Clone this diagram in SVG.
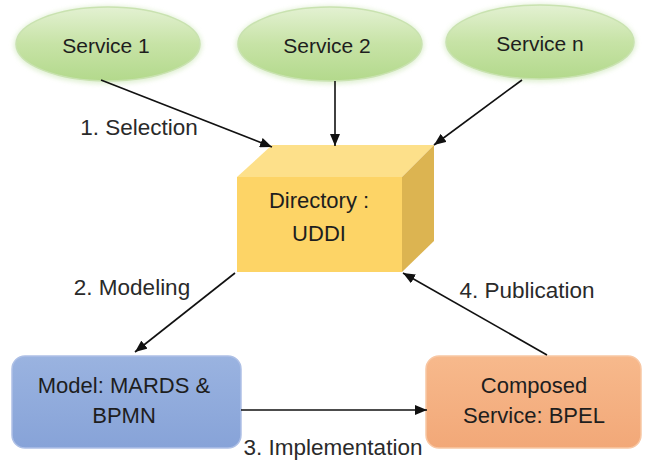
<svg xmlns="http://www.w3.org/2000/svg" width="650" height="461" viewBox="0 0 650 461">
  <defs>
    <linearGradient id="gGreen" x1="0" y1="0" x2="0" y2="1">
      <stop offset="0" stop-color="#e3f1d2"/>
      <stop offset="0.5" stop-color="#c7e3a6"/>
      <stop offset="1" stop-color="#b3d98c"/>
    </linearGradient>
    <linearGradient id="gBlue" x1="0" y1="0" x2="0" y2="1">
      <stop offset="0" stop-color="#9ab3e0"/>
      <stop offset="1" stop-color="#87a3d8"/>
    </linearGradient>
    <linearGradient id="gOrange" x1="0" y1="0" x2="0" y2="1">
      <stop offset="0" stop-color="#f7b98c"/>
      <stop offset="1" stop-color="#f2a878"/>
    </linearGradient>
    <filter id="glow" x="-20%" y="-30%" width="140%" height="160%">
      <feGaussianBlur stdDeviation="2.5"/>
    </filter>
    <marker id="arr" viewBox="0 0 12 10" refX="12" refY="5" markerWidth="12" markerHeight="10" markerUnits="userSpaceOnUse" orient="auto">
      <path d="M0,0 L12,5 L0,10 Z" fill="#111"/>
    </marker>
    <style>
      .node { font-family: "Liberation Sans", Arial, sans-serif; font-size: 22px; fill: #1e1e1e; text-anchor: middle; }
      .svc { font-size: 21px; }
      .lbl { font-family: "Liberation Sans", Arial, sans-serif; font-size: 22.5px; fill: #2a2a2a; text-anchor: middle; }
      .conn line { stroke: #111; stroke-width: 1.6; marker-end: url(#arr); }
      .ell { fill: url(#gGreen); stroke: #c9e2b0; stroke-width: 1.5; }
      .halo { fill: #d6ebc4; opacity: 0.8; filter: url(#glow); }
    </style>
  </defs>
  <rect width="650" height="461" fill="#ffffff"/>

  <g id="service1">
    <ellipse class="halo" cx="108" cy="45" rx="94" ry="39"/>
    <ellipse class="ell" cx="108" cy="44" rx="92" ry="37"/>
    <text class="node svc" x="106" y="53">Service 1</text>
  </g>
  <g id="service2">
    <ellipse class="halo" cx="330" cy="45" rx="94" ry="39"/>
    <ellipse class="ell" cx="330" cy="44" rx="92" ry="37"/>
    <text class="node svc" x="327" y="53">Service 2</text>
  </g>
  <g id="servicen">
    <ellipse class="halo" cx="540" cy="43" rx="96" ry="39"/>
    <ellipse class="ell" cx="540" cy="42" rx="94" ry="37"/>
    <text class="node svc" x="540" y="51">Service n</text>
  </g>

  <g id="directory">
    <polygon points="237,177 272,145 434,145 402,177" fill="#fde08a"/>
    <polygon points="402,177 434,145 434,241 402,272" fill="#dcb451"/>
    <rect x="237" y="177" width="165" height="95" fill="#fdd466"/>
    <text class="node" x="319" y="208">Directory :</text>
    <text class="node" x="319" y="241">UDDI</text>
  </g>

  <g id="model">
    <rect x="12" y="356" width="229" height="92" rx="13" fill="url(#gBlue)" stroke="#aec0e6" stroke-width="1.5"/>
    <text class="node" x="124" y="393">Model: MARDS &amp;</text>
    <text class="node" x="124" y="423">BPMN</text>
  </g>

  <g id="composed">
    <rect x="426" y="356" width="215" height="92" rx="13" fill="url(#gOrange)" stroke="#f8c7a4" stroke-width="1.5"/>
    <text class="node" x="534" y="393">Composed</text>
    <text class="node" x="534" y="423">Service: BPEL</text>
  </g>

  <g id="connectors" class="conn">
    <line x1="101" y1="80" x2="272" y2="147"/>
    <line x1="335" y1="81" x2="335" y2="146"/>
    <line x1="522" y1="80" x2="434" y2="145"/>
    <line x1="235" y1="273" x2="135" y2="352"/>
    <line x1="241" y1="410" x2="427" y2="410"/>
    <line x1="547" y1="355" x2="403" y2="273"/>
  </g>

  <g id="labels">
    <text class="lbl" x="139" y="135">1. Selection</text>
    <text class="lbl" x="132" y="295">2. Modeling</text>
    <text class="lbl" x="333" y="455">3. Implementation</text>
    <text class="lbl" x="527" y="298">4. Publication</text>
  </g>
</svg>
